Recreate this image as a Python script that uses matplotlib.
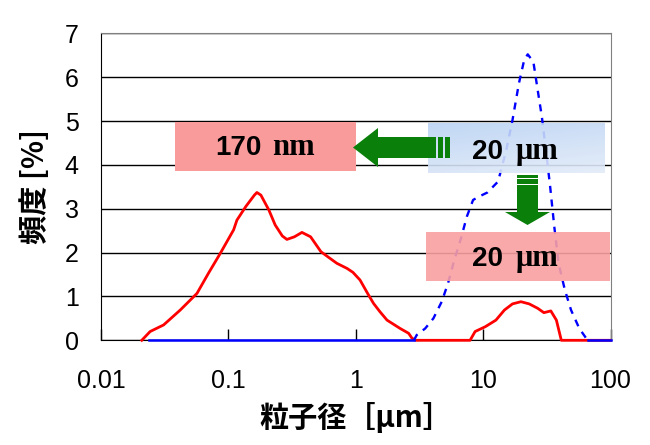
import numpy as np
import matplotlib.pyplot as plt
from matplotlib.patches import Rectangle, Polygon
from matplotlib.colors import LinearSegmentedColormap

# particle size [um] and frequency [%]
red_x = [0.0209, 0.0243, 0.031, 0.0419, 0.0567, 0.0698, 0.0863, 0.110, 0.1167, 0.137,
         0.160, 0.1675, 0.180, 0.208, 0.233, 0.265, 0.288, 0.330, 0.378, 0.442,
         0.533, 0.62, 0.711, 0.853, 0.95, 1.08, 1.25, 1.38, 1.55, 1.76,
         2.23, 2.60, 2.76, 2.95, 7.9, 8.65, 10.4, 12.6, 14.7, 17.0,
         19.8, 23.0, 26.8, 30.0, 34.0, 37.6, 41.1, 100]
red_y = [0.0, 0.2, 0.35, 0.69, 1.07, 1.53, 1.98, 2.52, 2.74, 3.05,
         3.31, 3.37, 3.31, 2.97, 2.63, 2.38, 2.30, 2.36, 2.46, 2.36,
         2.02, 1.88, 1.755, 1.64, 1.55, 1.375, 1.05, 0.84, 0.65, 0.46,
         0.27, 0.16, 0.05, 0.0, 0.0, 0.2, 0.31, 0.46, 0.69, 0.83,
         0.88, 0.83, 0.73, 0.63, 0.67, 0.46, 0.0, 0.0]

blue_x = [0.024, 2.86, 3.01, 3.51, 4.07, 4.73, 5.30, 5.94, 6.65, 7.45,
          8.34, 9.33, 10.8, 13.1, 15.2, 17.0, 19.1, 21.0, 22.4, 24.8,
          26.8, 28.9, 31.1, 33.6, 36.2, 39.1, 43.8, 49.0, 56.9, 66.1, 100]
blue_y = [0.0, 0.0, 0.12, 0.27, 0.50, 0.88, 1.30, 1.83, 2.29, 2.82,
          3.20, 3.28, 3.37, 3.62, 4.34, 5.02, 5.86, 6.39, 6.52, 6.35,
          5.71, 5.10, 4.34, 3.50, 2.59, 1.76, 1.15, 0.69, 0.27, 0.0, 0.0]

xticks = [0.01, 0.1, 1, 10, 100]
xtick_labels = ['0.01', '0.1', '1', '10', '100']
yticks = [0, 1, 2, 3, 4, 5, 6, 7]

W, H = 650, 445
cjk = ['Noto Sans CJK JP', 'DejaVu Sans']
sans = 'Liberation Sans'
serif = 'Liberation Serif'


def fx(x):
    return x / W


def fy(y):
    return 1 - y / H


fig = plt.figure(figsize=(W / 100, H / 100), dpi=100)
ax = fig.add_axes([fx(101), fy(340.3), 509.5 / W, 307 / H])

ax.plot(red_x, red_y, color='#FF0000', lw=2, zorder=3, clip_on=False)
ax.plot(blue_x[:2], blue_y[:2], color='#0000FF', lw=1.8, zorder=4, clip_on=False)
ax.plot(blue_x[1:-1], blue_y[1:-1], color='#0000FF', lw=1.7, ls=(0, (3, 2.8)), zorder=4, clip_on=False)
ax.plot(blue_x[-2:], blue_y[-2:], color='#0000FF', lw=1.8, zorder=4, clip_on=False)

ax.set_xscale('log')
ax.set_xlim(0.01, 100)
ax.set_ylim(0, 7)
ax.set_xticks(xticks)
ax.set_xticklabels(xtick_labels, family=sans)
ax.minorticks_off()
ax.set_yticks(yticks)
ax.set_yticklabels([str(v) for v in yticks], family=sans)
ax.grid(axis='y', color='black', lw=1)
ax.set_axisbelow(True)
ax.tick_params(axis='y', length=0, pad=16, labelsize=18)
ax.tick_params(axis='x', direction='in', length=8, width=1, pad=21, labelsize=18)
for s in ['top', 'right']:
    ax.spines[s].set_color('#808080')
for s in ['left', 'bottom']:
    ax.spines[s].set_color('black')

ax.set_ylabel('頻度 [%]', family=cjk, fontsize=21, fontweight='bold')
ax.yaxis.set_label_coords(-0.10, 0.5)
ax.set_xlabel('粒子径［μm］', family=cjk, fontsize=21, fontweight='bold')
ax.xaxis.set_label_coords(0.5, -0.20)

# pink box 170 nm
fig.patches.append(Rectangle((fx(175), fy(171)), 181 / W, 49 / H, transform=fig.transFigure,
                             facecolor='#F99B9B', edgecolor='none', zorder=2))

# blue gradient box
gax = fig.add_axes([fx(428), fy(173), 177 / W, 50 / H], zorder=1)
gx, gy = np.meshgrid(np.linspace(0, 1, 100), np.linspace(0, 1, 40))
cmap = LinearSegmentedColormap.from_list('bl', ['#BAD3F3', '#E2EBF9'])
gax.imshow(0.3 * gx + 0.7 * gy, cmap=cmap, aspect='auto', alpha=0.9, interpolation='bilinear')
gax.axis('off')

# lower pink box
fig.patches.append(Rectangle((fx(426), fy(281)), 184 / W, 49 / H, transform=fig.transFigure,
                             facecolor='#F9A0A0', edgecolor='none', alpha=0.9, zorder=2))

green = '#0A7F0A'
# left arrow
left_arrow = [(353, 147.5), (378, 128), (378, 137), (436, 137), (436, 158), (378, 158), (378, 167)]
fig.patches.append(Polygon([(fx(a), fy(b)) for a, b in left_arrow], closed=True, transform=fig.transFigure,
                           facecolor=green, edgecolor='none', zorder=3))
for x0, x1 in [(438, 443), (445, 450)]:
    fig.patches.append(Rectangle((fx(x0), fy(158)), (x1 - x0) / W, 21 / H, transform=fig.transFigure,
                                 facecolor=green, edgecolor='none', zorder=3))

# down arrow
down_arrow = [(517, 185), (538, 185), (538, 212), (550, 212), (527.5, 225), (505, 212), (517, 212)]
fig.patches.append(Polygon([(fx(a), fy(b)) for a, b in down_arrow], closed=True, transform=fig.transFigure,
                           facecolor=green, edgecolor='none', zorder=3))
for y0, y1 in [(175, 178), (179.5, 183.5)]:
    fig.patches.append(Rectangle((fx(517), fy(y1)), 21 / W, (y1 - y0) / H, transform=fig.transFigure,
                                 facecolor=green, edgecolor='none', zorder=3))

# labels
fig.text(fx(262), fy(155), '170', family=sans, fontsize=20, fontweight='bold', ha='right', va='baseline', zorder=5)
fig.text(fx(272), fy(155), 'nm', family=serif, fontsize=22, fontweight='bold', ha='left', va='baseline', zorder=5)
fig.text(fx(503), fy(159), '20', family=sans, fontsize=20, fontweight='bold', ha='right', va='baseline', zorder=5)
fig.text(fx(516), fy(159), 'μm', family=serif, fontsize=22, fontweight='bold', ha='left', va='baseline', zorder=5)
fig.text(fx(503), fy(266), '20', family=sans, fontsize=20, fontweight='bold', ha='right', va='baseline', zorder=5)
fig.text(fx(516), fy(266), 'μm', family=serif, fontsize=22, fontweight='bold', ha='left', va='baseline', zorder=5)

fig.savefig('out.png', dpi=100)
